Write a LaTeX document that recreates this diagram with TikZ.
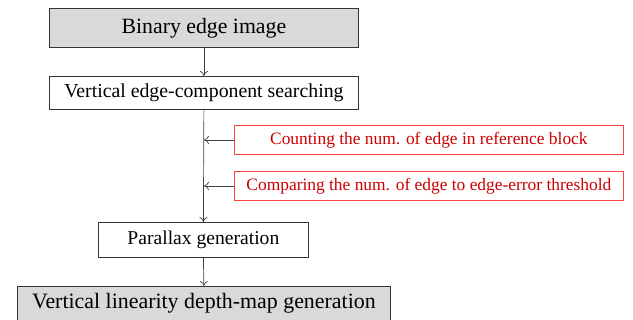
\documentclass[tikz,border=0pt]{standalone}
\usepackage{fontspec}
\setmainfont{Liberation Serif}
\usetikzlibrary{arrows.meta}
\begin{document}
\begin{tikzpicture}[x=1pt,y=-1pt,
  box/.style={draw=black!80, line width=0.8pt, inner sep=0pt, anchor=north west},
  redbox/.style={draw=red!75, line width=0.8pt, inner sep=0pt, anchor=north west, text=red!80!black},
  arr/.style={draw=black!75, line width=0.7pt, -{To[length=5pt,width=8pt]}}]
\useasboundingbox (0,0) rectangle (633,320);
\node[box, fill=black!15, minimum width=309pt, minimum height=39pt, font=\fontsize{21.8}{24}\selectfont] (b1) at (49,8) {Binary edge image};
\node[box, minimum width=309pt, minimum height=33pt, font=\fontsize{19.8}{22}\selectfont] (b2) at (49,76) {Vertical edge-component searching};
\node[box, minimum width=210pt, minimum height=35pt, font=\fontsize{19.6}{22}\selectfont] (b3) at (98,222) {Parallax generation};
\node[box, fill=black!15, minimum width=373pt, minimum height=34pt, font=\fontsize{21.9}{24}\selectfont] (b4) at (17,286) {Vertical linearity depth-map generation};
\node[redbox, minimum width=389pt, minimum height=29pt, font=\fontsize{17.4}{20}\selectfont] (r1) at (234,125) {Counting the num. of edge in reference block};
\node[redbox, minimum width=389pt, minimum height=29pt, font=\fontsize{17.4}{20}\selectfont] (r2) at (234,171) {Comparing the num. of edge to edge-error threshold};
\draw[arr] (b1.south) -- (b2.north);
\draw[arr] (b2.south) -- (b3.north);
\draw[arr] (b3.south) -- (b4.north);
\coordinate (j1) at (b2.south |- r1.west);
\coordinate (j2) at (b2.south |- r2.west);
\draw[arr] (r1.west) -- (j1);
\draw[arr] (r2.west) -- (j2);
\end{tikzpicture}
\end{document}
